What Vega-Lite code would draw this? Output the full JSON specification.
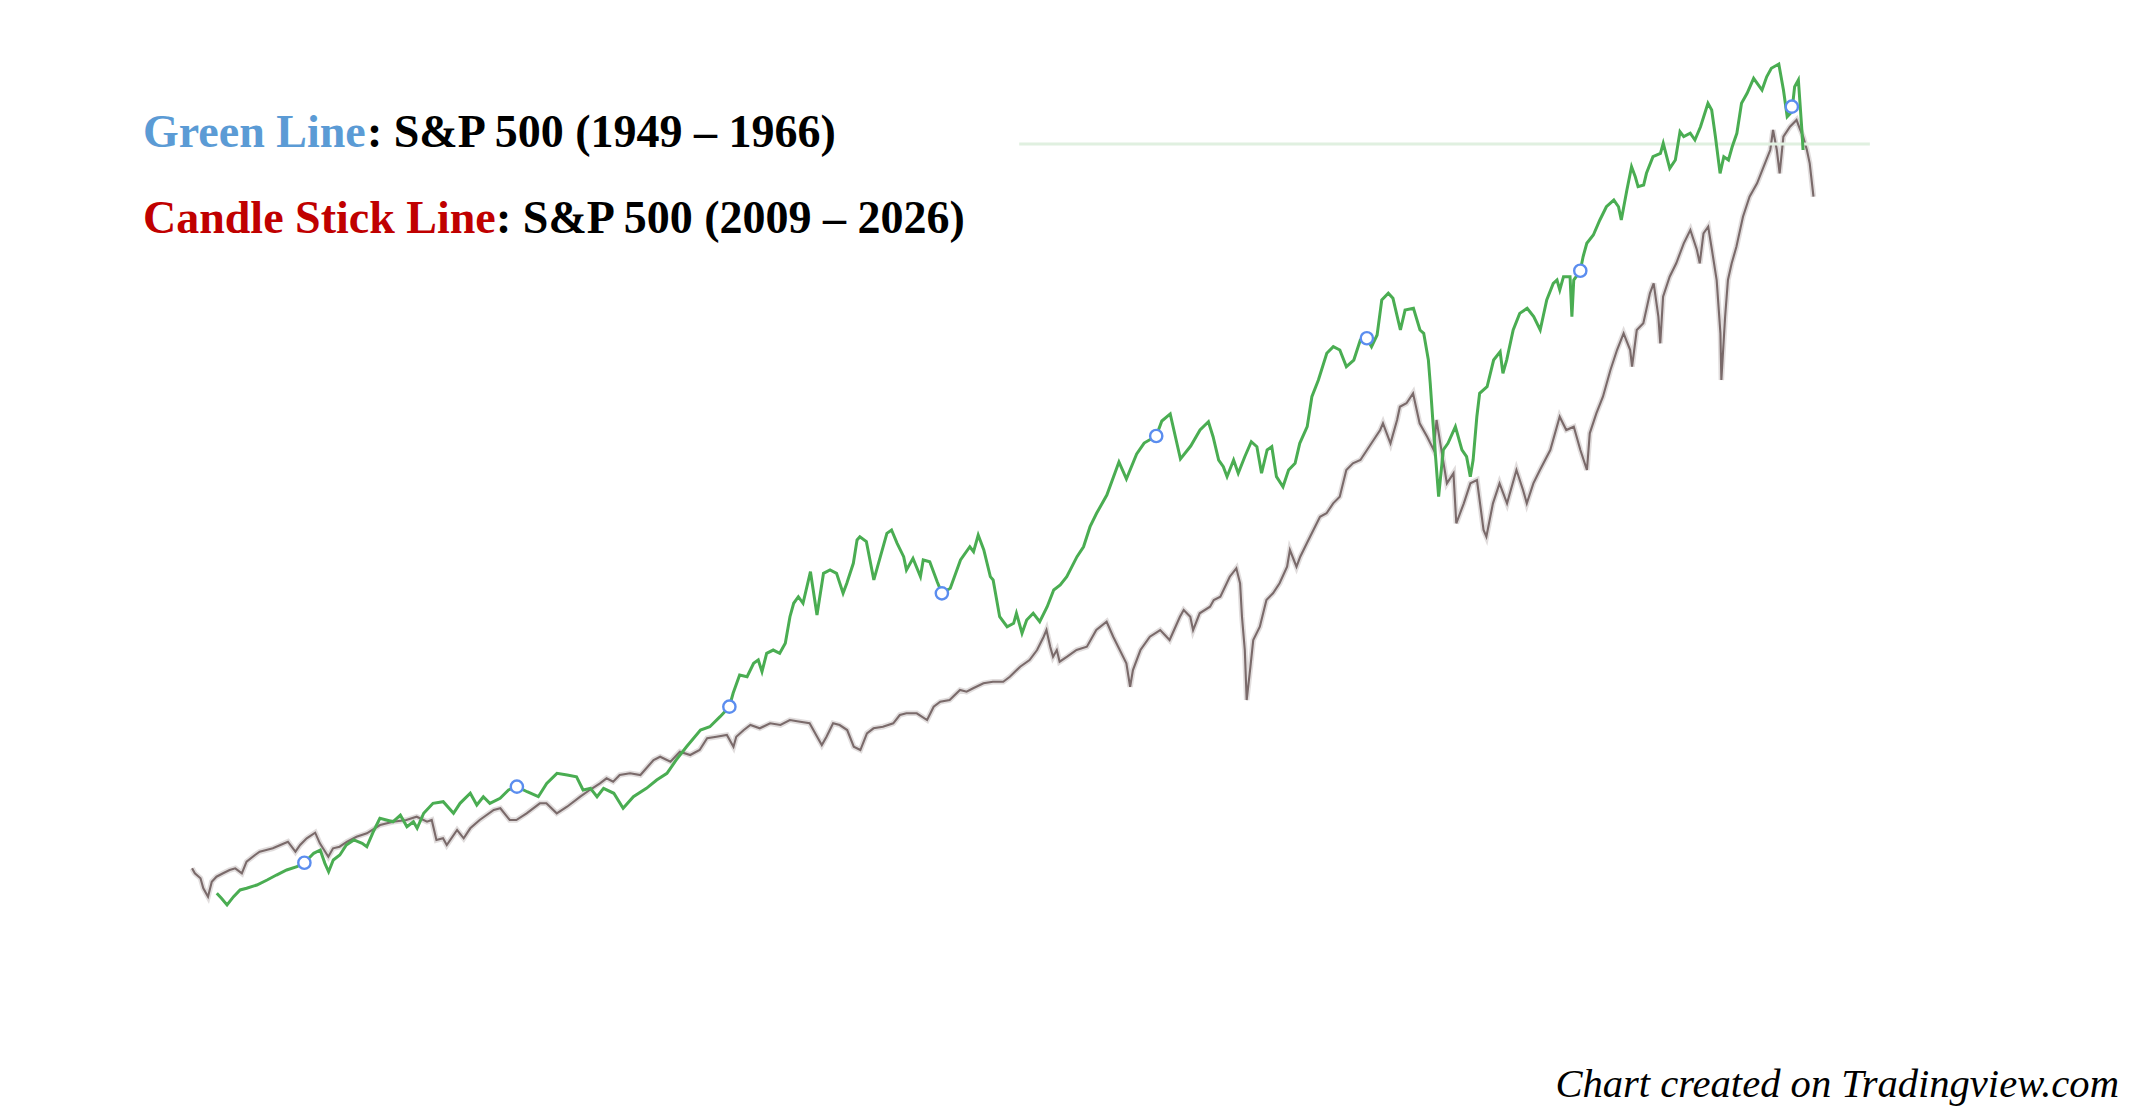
{
  "$schema": "https://vega.github.io/schema/vega-lite/v6.json",
  "description": "S&P 500 1949-1966 (green) overlaid on S&P 500 2009-2026 (candles), aligned by elapsed time.",
  "width": 2131,
  "height": 1115,
  "autosize": {"type": "fit", "contains": "padding"},
  "padding": 0,
  "background": "white",
  "config": {"view": {"stroke": null}},
  "datasets": {
    "green": [
      {"year": 1949.34, "close": 14.68}, {"year": 1949.39, "close": 14.19}, {"year": 1949.45, "close": 13.55},
      {"year": 1949.52, "close": 14.35}, {"year": 1949.59, "close": 15.00}, {"year": 1949.66, "close": 15.16},
      {"year": 1949.77, "close": 15.48}, {"year": 1949.88, "close": 15.96}, {"year": 1949.98, "close": 16.44},
      {"year": 1950.09, "close": 16.93}, {"year": 1950.20, "close": 17.25}, {"year": 1950.28, "close": 17.63},
      {"year": 1950.38, "close": 18.54}, {"year": 1950.45, "close": 18.86}, {"year": 1950.50, "close": 17.57},
      {"year": 1950.54, "close": 16.76}, {"year": 1950.59, "close": 17.89}, {"year": 1950.66, "close": 18.38},
      {"year": 1950.73, "close": 19.34}, {"year": 1950.81, "close": 19.83}, {"year": 1950.90, "close": 19.51},
      {"year": 1950.95, "close": 19.18}, {"year": 1951.02, "close": 20.63}, {"year": 1951.09, "close": 21.92},
      {"year": 1951.16, "close": 21.76}, {"year": 1951.23, "close": 21.59}, {"year": 1951.31, "close": 22.24},
      {"year": 1951.38, "close": 21.11}, {"year": 1951.45, "close": 21.59}, {"year": 1951.49, "close": 20.96},
      {"year": 1951.56, "close": 22.41}, {"year": 1951.66, "close": 23.37}, {"year": 1951.77, "close": 23.53},
      {"year": 1951.88, "close": 22.41}, {"year": 1951.95, "close": 23.37}, {"year": 1952.06, "close": 24.34},
      {"year": 1952.13, "close": 23.21}, {"year": 1952.20, "close": 24.01}, {"year": 1952.27, "close": 23.37},
      {"year": 1952.38, "close": 23.86}, {"year": 1952.47, "close": 24.66}, {"year": 1952.56, "close": 24.98},
      {"year": 1952.67, "close": 24.49}, {"year": 1952.79, "close": 24.01}, {"year": 1952.88, "close": 25.30},
      {"year": 1952.99, "close": 26.27}, {"year": 1953.10, "close": 26.11}, {"year": 1953.20, "close": 25.94},
      {"year": 1953.27, "close": 24.66}, {"year": 1953.35, "close": 24.82}, {"year": 1953.42, "close": 24.01},
      {"year": 1953.49, "close": 24.82}, {"year": 1953.60, "close": 24.34}, {"year": 1953.70, "close": 22.89},
      {"year": 1953.81, "close": 24.01}, {"year": 1953.95, "close": 24.82}, {"year": 1954.06, "close": 25.62},
      {"year": 1954.17, "close": 26.27}, {"year": 1954.27, "close": 27.56}, {"year": 1954.38, "close": 28.84},
      {"year": 1954.53, "close": 30.45}, {"year": 1954.63, "close": 30.77}, {"year": 1954.74, "close": 31.74},
      {"year": 1954.84, "close": 32.71}, {"year": 1954.88, "close": 34.00}, {"year": 1954.95, "close": 35.77},
      {"year": 1955.03, "close": 35.60}, {"year": 1955.10, "close": 36.90}, {"year": 1955.15, "close": 37.22},
      {"year": 1955.19, "close": 36.09}, {"year": 1955.24, "close": 37.86}, {"year": 1955.31, "close": 38.18},
      {"year": 1955.38, "close": 37.86}, {"year": 1955.44, "close": 38.83}, {"year": 1955.49, "close": 41.40},
      {"year": 1955.53, "close": 42.70}, {"year": 1955.58, "close": 43.33}, {"year": 1955.63, "close": 42.70},
      {"year": 1955.71, "close": 45.75}, {"year": 1955.78, "close": 41.57}, {"year": 1955.85, "close": 45.59},
      {"year": 1955.92, "close": 45.91}, {"year": 1955.99, "close": 45.59}, {"year": 1956.06, "close": 43.66},
      {"year": 1956.10, "close": 44.63}, {"year": 1956.17, "close": 46.56}, {"year": 1956.21, "close": 48.81},
      {"year": 1956.24, "close": 49.13}, {"year": 1956.31, "close": 48.65}, {"year": 1956.39, "close": 44.95},
      {"year": 1956.46, "close": 47.20}, {"year": 1956.53, "close": 49.46}, {"year": 1956.58, "close": 49.78},
      {"year": 1956.64, "close": 48.49}, {"year": 1956.71, "close": 47.20}, {"year": 1956.74, "close": 45.91},
      {"year": 1956.81, "close": 47.04}, {"year": 1956.89, "close": 45.27}, {"year": 1956.92, "close": 46.88},
      {"year": 1956.99, "close": 46.71}, {"year": 1957.07, "close": 44.78}, {"year": 1957.12, "close": 43.66},
      {"year": 1957.21, "close": 44.14}, {"year": 1957.32, "close": 46.88}, {"year": 1957.42, "close": 48.16},
      {"year": 1957.46, "close": 47.68}, {"year": 1957.51, "close": 49.29}, {"year": 1957.57, "close": 47.85},
      {"year": 1957.64, "close": 45.27}, {"year": 1957.67, "close": 44.95}, {"year": 1957.74, "close": 41.40},
      {"year": 1957.82, "close": 40.43}, {"year": 1957.89, "close": 40.76}, {"year": 1957.92, "close": 41.73},
      {"year": 1957.98, "close": 39.80}, {"year": 1958.03, "close": 41.08}, {"year": 1958.10, "close": 41.73},
      {"year": 1958.17, "close": 40.92}, {"year": 1958.25, "close": 42.37}, {"year": 1958.32, "close": 43.98},
      {"year": 1958.39, "close": 44.46}, {"year": 1958.46, "close": 45.27}, {"year": 1958.57, "close": 47.20},
      {"year": 1958.64, "close": 48.16}, {"year": 1958.71, "close": 50.10}, {"year": 1958.78, "close": 51.39},
      {"year": 1958.89, "close": 53.16}, {"year": 1959.02, "close": 56.35}, {"year": 1959.10, "close": 54.71},
      {"year": 1959.21, "close": 57.12}, {"year": 1959.29, "close": 58.18}, {"year": 1959.42, "close": 58.86},
      {"year": 1959.48, "close": 60.31}, {"year": 1959.57, "close": 60.99}, {"year": 1959.68, "close": 56.64},
      {"year": 1959.79, "close": 57.89}, {"year": 1959.89, "close": 59.44}, {"year": 1959.98, "close": 60.24},
      {"year": 1960.03, "close": 58.79}, {"year": 1960.09, "close": 56.54}, {"year": 1960.14, "close": 55.89},
      {"year": 1960.18, "close": 54.93}, {"year": 1960.25, "close": 56.54}, {"year": 1960.30, "close": 55.26},
      {"year": 1960.37, "close": 56.86}, {"year": 1960.44, "close": 58.31}, {"year": 1960.50, "close": 57.83},
      {"year": 1960.55, "close": 55.26}, {"year": 1960.61, "close": 57.51}, {"year": 1960.66, "close": 57.83},
      {"year": 1960.71, "close": 54.93}, {"year": 1960.78, "close": 53.96}, {"year": 1960.84, "close": 55.57},
      {"year": 1960.91, "close": 56.22}, {"year": 1960.96, "close": 58.15}, {"year": 1961.04, "close": 59.76},
      {"year": 1961.09, "close": 62.66}, {"year": 1961.16, "close": 64.27}, {"year": 1961.25, "close": 66.85},
      {"year": 1961.32, "close": 67.49}, {"year": 1961.39, "close": 67.17}, {"year": 1961.46, "close": 65.56},
      {"year": 1961.54, "close": 66.20}, {"year": 1961.61, "close": 68.14}, {"year": 1961.68, "close": 68.30},
      {"year": 1961.73, "close": 67.49}, {"year": 1961.79, "close": 68.62}, {"year": 1961.84, "close": 72.00},
      {"year": 1961.91, "close": 72.65}, {"year": 1961.96, "close": 72.16}, {"year": 1962.04, "close": 69.10},
      {"year": 1962.09, "close": 71.03}, {"year": 1962.18, "close": 71.20}, {"year": 1962.25, "close": 69.10},
      {"year": 1962.29, "close": 68.78}, {"year": 1962.34, "close": 66.20}, {"year": 1962.36, "close": 63.95},
      {"year": 1962.39, "close": 60.09}, {"year": 1962.45, "close": 53.00}, {"year": 1962.50, "close": 57.51},
      {"year": 1962.55, "close": 58.15}, {"year": 1962.63, "close": 59.76}, {"year": 1962.70, "close": 57.51},
      {"year": 1962.75, "close": 56.86}, {"year": 1962.79, "close": 54.93}, {"year": 1962.82, "close": 56.54},
      {"year": 1962.86, "close": 60.72}, {"year": 1962.89, "close": 62.99}, {"year": 1962.97, "close": 63.62},
      {"year": 1963.04, "close": 66.20}, {"year": 1963.11, "close": 67.00}, {"year": 1963.14, "close": 64.92},
      {"year": 1963.18, "close": 66.20}, {"year": 1963.25, "close": 69.10}, {"year": 1963.32, "close": 70.71},
      {"year": 1963.40, "close": 71.20}, {"year": 1963.47, "close": 70.39}, {"year": 1963.54, "close": 69.10},
      {"year": 1963.61, "close": 72.00}, {"year": 1963.68, "close": 73.61}, {"year": 1963.72, "close": 73.93},
      {"year": 1963.75, "close": 72.97}, {"year": 1963.79, "close": 74.25}, {"year": 1963.86, "close": 74.25},
      {"year": 1963.88, "close": 70.39}, {"year": 1963.90, "close": 73.93}, {"year": 1963.97, "close": 74.83},
      {"year": 1964.00, "close": 76.18}, {"year": 1964.04, "close": 77.48}, {"year": 1964.11, "close": 78.28},
      {"year": 1964.18, "close": 79.73}, {"year": 1964.25, "close": 81.01}, {"year": 1964.33, "close": 81.66},
      {"year": 1964.38, "close": 81.01}, {"year": 1964.41, "close": 79.73}, {"year": 1964.47, "close": 82.63},
      {"year": 1964.52, "close": 84.88}, {"year": 1964.56, "close": 83.91}, {"year": 1964.59, "close": 82.95},
      {"year": 1964.65, "close": 83.11}, {"year": 1964.68, "close": 84.24}, {"year": 1964.75, "close": 85.85},
      {"year": 1964.83, "close": 86.17}, {"year": 1964.86, "close": 87.14}, {"year": 1964.93, "close": 84.72},
      {"year": 1964.99, "close": 85.53}, {"year": 1965.04, "close": 88.26}, {"year": 1965.08, "close": 87.78},
      {"year": 1965.15, "close": 88.11}, {"year": 1965.20, "close": 87.46}, {"year": 1965.26, "close": 88.74},
      {"year": 1965.34, "close": 91.00}, {"year": 1965.38, "close": 90.36}, {"year": 1965.42, "close": 87.78},
      {"year": 1965.47, "close": 84.24}, {"year": 1965.51, "close": 85.85}, {"year": 1965.56, "close": 85.53},
      {"year": 1965.60, "close": 86.81}, {"year": 1965.65, "close": 88.11}, {"year": 1965.70, "close": 91.00},
      {"year": 1965.76, "close": 91.97}, {"year": 1965.83, "close": 93.42}, {"year": 1965.92, "close": 92.29},
      {"year": 1965.97, "close": 93.57}, {"year": 1966.02, "close": 94.39}, {"year": 1966.10, "close": 94.80},
      {"year": 1966.15, "close": 92.29}, {"year": 1966.19, "close": 89.71}, {"year": 1966.24, "close": 90.19},
      {"year": 1966.27, "close": 92.61}, {"year": 1966.31, "close": 93.26}, {"year": 1966.35, "close": 88.11},
      {"year": 1966.36, "close": 86.49}
    ],
    "markers": [
      {"year": 1950.28, "close": 17.63}, {"year": 1952.56, "close": 24.98}, {"year": 1954.84, "close": 32.71},
      {"year": 1957.12, "close": 43.66}, {"year": 1959.42, "close": 58.86}, {"year": 1961.68, "close": 68.30},
      {"year": 1963.97, "close": 74.83}, {"year": 1966.24, "close": 90.68}
    ],
    "candle": [
      {"year": 2009.00, "close": 911}, {"year": 2009.03, "close": 870}, {"year": 2009.09, "close": 829},
      {"year": 2009.12, "close": 747}, {"year": 2009.17, "close": 678}, {"year": 2009.21, "close": 801},
      {"year": 2009.26, "close": 842}, {"year": 2009.33, "close": 870}, {"year": 2009.40, "close": 897},
      {"year": 2009.46, "close": 911}, {"year": 2009.53, "close": 870}, {"year": 2009.58, "close": 965},
      {"year": 2009.67, "close": 1020}, {"year": 2009.72, "close": 1047}, {"year": 2009.79, "close": 1061},
      {"year": 2009.86, "close": 1075}, {"year": 2009.94, "close": 1102}, {"year": 2010.02, "close": 1129},
      {"year": 2010.10, "close": 1047}, {"year": 2010.15, "close": 1102}, {"year": 2010.22, "close": 1157},
      {"year": 2010.31, "close": 1203}, {"year": 2010.36, "close": 1116}, {"year": 2010.45, "close": 1006},
      {"year": 2010.50, "close": 1075}, {"year": 2010.57, "close": 1088}, {"year": 2010.65, "close": 1129},
      {"year": 2010.75, "close": 1170}, {"year": 2010.86, "close": 1198}, {"year": 2011.00, "close": 1266},
      {"year": 2011.14, "close": 1293}, {"year": 2011.28, "close": 1307}, {"year": 2011.39, "close": 1334},
      {"year": 2011.50, "close": 1293}, {"year": 2011.55, "close": 1307}, {"year": 2011.60, "close": 1143},
      {"year": 2011.67, "close": 1157}, {"year": 2011.71, "close": 1102}, {"year": 2011.82, "close": 1225},
      {"year": 2011.89, "close": 1157}, {"year": 2011.96, "close": 1239}, {"year": 2012.06, "close": 1307},
      {"year": 2012.21, "close": 1389}, {"year": 2012.28, "close": 1403}, {"year": 2012.38, "close": 1307},
      {"year": 2012.45, "close": 1307}, {"year": 2012.56, "close": 1362}, {"year": 2012.70, "close": 1444},
      {"year": 2012.77, "close": 1444}, {"year": 2012.88, "close": 1362}, {"year": 2012.99, "close": 1416},
      {"year": 2013.13, "close": 1498}, {"year": 2013.23, "close": 1553}, {"year": 2013.34, "close": 1608},
      {"year": 2013.41, "close": 1649}, {"year": 2013.48, "close": 1621}, {"year": 2013.55, "close": 1676},
      {"year": 2013.66, "close": 1690}, {"year": 2013.77, "close": 1676}, {"year": 2013.91, "close": 1799},
      {"year": 2013.98, "close": 1826}, {"year": 2014.09, "close": 1785}, {"year": 2014.19, "close": 1867},
      {"year": 2014.30, "close": 1840}, {"year": 2014.40, "close": 1881}, {"year": 2014.48, "close": 1977},
      {"year": 2014.58, "close": 1990}, {"year": 2014.69, "close": 2004}, {"year": 2014.76, "close": 1908},
      {"year": 2014.79, "close": 1990}, {"year": 2014.87, "close": 2045}, {"year": 2014.94, "close": 2086},
      {"year": 2015.04, "close": 2059}, {"year": 2015.15, "close": 2100}, {"year": 2015.26, "close": 2086},
      {"year": 2015.36, "close": 2127}, {"year": 2015.47, "close": 2113}, {"year": 2015.57, "close": 2100},
      {"year": 2015.65, "close": 1990}, {"year": 2015.70, "close": 1922}, {"year": 2015.75, "close": 1990},
      {"year": 2015.82, "close": 2100}, {"year": 2015.89, "close": 2086}, {"year": 2015.97, "close": 2045},
      {"year": 2016.04, "close": 1908}, {"year": 2016.11, "close": 1881}, {"year": 2016.18, "close": 2018},
      {"year": 2016.25, "close": 2059}, {"year": 2016.35, "close": 2072}, {"year": 2016.46, "close": 2100},
      {"year": 2016.53, "close": 2168}, {"year": 2016.60, "close": 2182}, {"year": 2016.71, "close": 2182},
      {"year": 2016.82, "close": 2127}, {"year": 2016.89, "close": 2236}, {"year": 2016.96, "close": 2277},
      {"year": 2017.06, "close": 2291}, {"year": 2017.17, "close": 2373}, {"year": 2017.24, "close": 2359},
      {"year": 2017.31, "close": 2387}, {"year": 2017.42, "close": 2428}, {"year": 2017.52, "close": 2441},
      {"year": 2017.63, "close": 2441}, {"year": 2017.70, "close": 2482}, {"year": 2017.81, "close": 2564},
      {"year": 2017.91, "close": 2619}, {"year": 2017.99, "close": 2701}, {"year": 2018.06, "close": 2810},
      {"year": 2018.09, "close": 2865}, {"year": 2018.13, "close": 2728}, {"year": 2018.16, "close": 2646},
      {"year": 2018.20, "close": 2701}, {"year": 2018.23, "close": 2605}, {"year": 2018.31, "close": 2646},
      {"year": 2018.41, "close": 2701}, {"year": 2018.52, "close": 2728}, {"year": 2018.62, "close": 2865},
      {"year": 2018.73, "close": 2933}, {"year": 2018.80, "close": 2810}, {"year": 2018.87, "close": 2701},
      {"year": 2018.94, "close": 2592}, {"year": 2018.98, "close": 2400}, {"year": 2019.01, "close": 2537},
      {"year": 2019.09, "close": 2701}, {"year": 2019.19, "close": 2810}, {"year": 2019.30, "close": 2865},
      {"year": 2019.40, "close": 2783}, {"year": 2019.51, "close": 2974}, {"year": 2019.55, "close": 3029},
      {"year": 2019.62, "close": 2974}, {"year": 2019.65, "close": 2865}, {"year": 2019.72, "close": 3002},
      {"year": 2019.83, "close": 3056}, {"year": 2019.87, "close": 3111}, {"year": 2019.94, "close": 3138},
      {"year": 2020.04, "close": 3302}, {"year": 2020.11, "close": 3371}, {"year": 2020.15, "close": 3248},
      {"year": 2020.17, "close": 2974}, {"year": 2020.20, "close": 2701}, {"year": 2020.22, "close": 2291},
      {"year": 2020.26, "close": 2564}, {"year": 2020.29, "close": 2783}, {"year": 2020.36, "close": 2892},
      {"year": 2020.43, "close": 3111}, {"year": 2020.50, "close": 3166}, {"year": 2020.57, "close": 3248},
      {"year": 2020.65, "close": 3384}, {"year": 2020.68, "close": 3521}, {"year": 2020.75, "close": 3384},
      {"year": 2020.79, "close": 3466}, {"year": 2020.86, "close": 3576}, {"year": 2020.93, "close": 3685},
      {"year": 2021.00, "close": 3794}, {"year": 2021.07, "close": 3822}, {"year": 2021.14, "close": 3904},
      {"year": 2021.21, "close": 3958}, {"year": 2021.28, "close": 4177}, {"year": 2021.35, "close": 4232},
      {"year": 2021.43, "close": 4259}, {"year": 2021.50, "close": 4341}, {"year": 2021.57, "close": 4423},
      {"year": 2021.64, "close": 4505}, {"year": 2021.67, "close": 4560}, {"year": 2021.75, "close": 4396},
      {"year": 2021.82, "close": 4587}, {"year": 2021.85, "close": 4696}, {"year": 2021.92, "close": 4724},
      {"year": 2021.99, "close": 4806}, {"year": 2022.06, "close": 4560}, {"year": 2022.14, "close": 4450},
      {"year": 2022.21, "close": 4341}, {"year": 2022.24, "close": 4587}, {"year": 2022.28, "close": 4396},
      {"year": 2022.35, "close": 4068}, {"year": 2022.42, "close": 4150}, {"year": 2022.45, "close": 3740},
      {"year": 2022.53, "close": 3904}, {"year": 2022.60, "close": 4068}, {"year": 2022.67, "close": 4095},
      {"year": 2022.74, "close": 3685}, {"year": 2022.77, "close": 3630}, {"year": 2022.84, "close": 3904},
      {"year": 2022.91, "close": 4068}, {"year": 2022.99, "close": 3904}, {"year": 2023.09, "close": 4177},
      {"year": 2023.16, "close": 4013}, {"year": 2023.20, "close": 3904}, {"year": 2023.27, "close": 4068},
      {"year": 2023.34, "close": 4177}, {"year": 2023.45, "close": 4341}, {"year": 2023.55, "close": 4614},
      {"year": 2023.62, "close": 4505}, {"year": 2023.70, "close": 4532}, {"year": 2023.77, "close": 4341},
      {"year": 2023.84, "close": 4177}, {"year": 2023.87, "close": 4478}, {"year": 2023.94, "close": 4642},
      {"year": 2024.01, "close": 4778}, {"year": 2024.09, "close": 4997}, {"year": 2024.16, "close": 5161},
      {"year": 2024.23, "close": 5298}, {"year": 2024.30, "close": 5161}, {"year": 2024.32, "close": 5024},
      {"year": 2024.37, "close": 5325}, {"year": 2024.44, "close": 5380}, {"year": 2024.51, "close": 5626},
      {"year": 2024.55, "close": 5708}, {"year": 2024.60, "close": 5434}, {"year": 2024.62, "close": 5216},
      {"year": 2024.65, "close": 5598}, {"year": 2024.72, "close": 5762}, {"year": 2024.79, "close": 5872},
      {"year": 2024.87, "close": 6036}, {"year": 2024.94, "close": 6145}, {"year": 2025.01, "close": 5981},
      {"year": 2025.04, "close": 5872}, {"year": 2025.08, "close": 6118}, {"year": 2025.13, "close": 6172},
      {"year": 2025.17, "close": 5981}, {"year": 2025.22, "close": 5735}, {"year": 2025.26, "close": 5298},
      {"year": 2025.27, "close": 4915}, {"year": 2025.31, "close": 5434}, {"year": 2025.34, "close": 5735},
      {"year": 2025.38, "close": 5872}, {"year": 2025.43, "close": 6008}, {"year": 2025.50, "close": 6254},
      {"year": 2025.57, "close": 6418}, {"year": 2025.65, "close": 6528}, {"year": 2025.72, "close": 6664},
      {"year": 2025.79, "close": 6801}, {"year": 2025.82, "close": 6965}, {"year": 2025.86, "close": 6801},
      {"year": 2025.89, "close": 6610}, {"year": 2025.93, "close": 6910}, {"year": 2026.00, "close": 6992},
      {"year": 2026.07, "close": 7047}, {"year": 2026.11, "close": 6965}, {"year": 2026.14, "close": 6910},
      {"year": 2026.18, "close": 6801}, {"year": 2026.21, "close": 6692}, {"year": 2026.25, "close": 6418}
    ],
    "level": [
      {"start": 2017.80, "end": 2026.85, "close": 6850}
    ],
    "notes": [
      {"label": "Green Line", "part": "name1", "year": 2008.478, "close": 6826},
      {"label": ": S&P 500 (1949 – 1966)", "part": "rest", "year": 2010.861, "close": 6826},
      {"label": "Candle Stick Line", "part": "name2", "year": 2008.478, "close": 6120},
      {"label": ": S&P 500 (2009 – 2026)", "part": "rest", "year": 2012.234, "close": 6120}
    ],
    "credit": [
      {"label": "Chart created on Tradingview.com", "year": 2029.50, "close": -968}
    ]
  },
  "layer": [
    {
      "layer": [
        {
          "data": {"name": "candle"},
          "mark": {"type": "line", "color": "#c9c1c1", "strokeWidth": 5.5, "opacity": 0.55},
          "encoding": {
            "x": {"field": "year", "type": "quantitative", "axis": null,
                  "scale": {"domain": [2006.957, 2029.628], "nice": false, "zero": false}},
            "y": {"field": "close", "type": "quantitative", "axis": null,
                  "scale": {"domain": [-1111.9, 8031.1], "nice": false, "zero": false}}
          }
        },
        {
          "data": {"name": "candle"},
          "mark": {"type": "line", "color": "#7a6a6a", "strokeWidth": 2.1},
          "encoding": {
            "x": {"field": "year", "type": "quantitative", "axis": null,
                  "scale": {"domain": [2006.957, 2029.628], "nice": false, "zero": false}},
            "y": {"field": "close", "type": "quantitative", "axis": null,
                  "scale": {"domain": [-1111.9, 8031.1], "nice": false, "zero": false}}
          }
        },
        {
          "data": {"name": "level"},
          "mark": {"type": "rule", "color": "#e0f0e0", "strokeWidth": 3},
          "encoding": {
            "x": {"field": "start", "type": "quantitative", "axis": null,
                  "scale": {"domain": [2006.957, 2029.628], "nice": false, "zero": false}},
            "x2": {"field": "end"},
            "y": {"field": "close", "type": "quantitative", "axis": null,
                  "scale": {"domain": [-1111.9, 8031.1], "nice": false, "zero": false}}
          }
        },
        {
          "data": {"name": "notes"},
          "mark": {"type": "text", "align": "left", "baseline": "alphabetic",
                   "font": "Liberation Serif", "fontWeight": "bold", "fontSize": 46},
          "encoding": {
            "x": {"field": "year", "type": "quantitative", "axis": null,
                  "scale": {"domain": [2006.957, 2029.628], "nice": false, "zero": false}},
            "y": {"field": "close", "type": "quantitative", "axis": null,
                  "scale": {"domain": [-1111.9, 8031.1], "nice": false, "zero": false}},
            "text": {"field": "label"},
            "color": {"field": "part", "type": "nominal", "legend": null,
                      "scale": {"domain": ["name1", "name2", "rest"], "range": ["#5b9bd5", "#c00000", "#000000"]}}
          }
        },
        {
          "data": {"name": "credit"},
          "mark": {"type": "text", "align": "right", "baseline": "alphabetic", "color": "#000000",
                   "font": "Liberation Serif", "fontStyle": "italic", "fontSize": 40.6},
          "encoding": {
            "x": {"field": "year", "type": "quantitative", "axis": null,
                  "scale": {"domain": [2006.957, 2029.628], "nice": false, "zero": false}},
            "y": {"field": "close", "type": "quantitative", "axis": null,
                  "scale": {"domain": [-1111.9, 8031.1], "nice": false, "zero": false}},
            "text": {"field": "label"}
          }
        }
      ]
    },
    {
      "layer": [
        {
          "data": {"name": "green"},
          "mark": {"type": "line", "color": "#4aad52", "strokeWidth": 3},
          "encoding": {
            "x": {"field": "year", "type": "quantitative", "axis": null,
                  "scale": {"domain": [1947.014, 1969.879], "nice": false, "zero": false}},
            "y": {"field": "close", "type": "quantitative", "axis": null,
                  "scale": {"domain": [-6.744, 100.986], "nice": false, "zero": false}}
          }
        },
        {
          "data": {"name": "markers"},
          "mark": {"type": "point", "shape": "circle", "size": 150, "filled": true, "fill": "white",
                   "stroke": "#5b8def", "strokeWidth": 2.4, "opacity": 1},
          "encoding": {
            "x": {"field": "year", "type": "quantitative", "axis": null,
                  "scale": {"domain": [1947.014, 1969.879], "nice": false, "zero": false}},
            "y": {"field": "close", "type": "quantitative", "axis": null,
                  "scale": {"domain": [-6.744, 100.986], "nice": false, "zero": false}}
          }
        }
      ]
    }
  ],
  "resolve": {"scale": {"x": "independent", "y": "independent", "color": "independent"}}
}
